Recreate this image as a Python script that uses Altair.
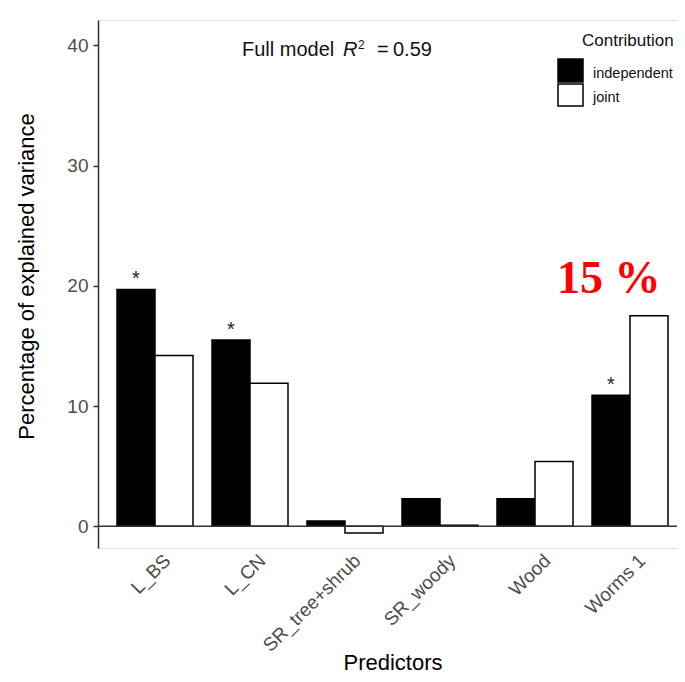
import altair as alt
import pandas as pd

predictors = ["L_BS", "L_CN", "SR_tree+shrub", "SR_woody", "Wood", "Worms 1"]
independent = [19.7, 15.5, 0.45, 2.3, 2.3, 10.9]
joint = [14.2, 11.9, -0.55, 0.1, 5.4, 17.5]
significant = ["L_BS", "L_CN", "Worms 1"]
contributions = ["independent", "joint"]

rows = []
for p, i, j in zip(predictors, independent, joint):
    rows.append({"Predictor": p, "Contribution": "independent", "value": i})
    rows.append({"Predictor": p, "Contribution": "joint", "value": j})
df = pd.DataFrame(rows)
stars = df[(df.Contribution == "independent") & (df.Predictor.isin(significant))]

FONT = "Liberation Sans"

xenc = alt.X("Predictor:N", sort=predictors,
             scale=alt.Scale(range=[0, 589], paddingInner=0.2, paddingOuter=0.2),
             axis=alt.Axis(title="Predictors", labelAngle=-45, labelAlign="right",
                           labelBaseline="top", labelFontSize=19, labelColor="#4d4d4d",
                           labelPadding=3, labelOffset=6, domain=False, ticks=False,
                           titleFontSize=22, titleFontWeight="normal", titleColor="black",
                           titleX=294.5, titleY=121, titleBaseline="alphabetic"))
xoff = alt.XOffset("Contribution:N", sort=contributions, scale=alt.Scale(paddingInner=0))
yscale = alt.Scale(domain=[-1.8, 42.1], nice=False, zero=False)

bars = alt.Chart(df).mark_bar(stroke="black", strokeWidth=1.5).encode(
    x=xenc,
    xOffset=xoff,
    y=alt.Y("value:Q", scale=yscale,
            axis=alt.Axis(title="Percentage of explained variance", values=[0, 10, 20, 30, 40],
                          grid=False, labelFontSize=19, labelColor="#4d4d4d",
                          domainColor="#333333", domainWidth=1.5, tickColor="#333333",
                          tickWidth=1.5, tickSize=5, labelPadding=5,
                          titleFontSize=22, titleFontWeight="normal", titleColor="black",
                          titlePadding=28, titleY=256)),
    y2=alt.datum(0),
    fill=alt.Fill("Contribution:N", scale=alt.Scale(domain=contributions, range=["black", "white"]),
                  legend=None),
)

zero = alt.Chart(pd.DataFrame({"z": [0]})).mark_rule(color="#333333", strokeWidth=1.5).encode(
    y=alt.Y("z:Q", scale=yscale))

star_text = alt.Chart(stars).mark_text(text="*", fontSize=20, baseline="middle", dy=-10,
                                       color="#222222").encode(
    x=alt.X("Predictor:N", sort=predictors), xOffset=alt.XOffset("Contribution:N", sort=contributions),
    y=alt.Y("value:Q", scale=yscale))

def txt(s, x, y, **kw):
    return alt.Chart(pd.DataFrame({"t": [s]})).mark_text(align="left", baseline="alphabetic", **kw).encode(
        text="t:N", x=alt.value(x), y=alt.value(y))

annot = [
    txt("Full model", 144, 36, fontSize=20, font=FONT, color="#111111"),
    txt("R", 245, 36, fontSize=20, font=FONT, fontStyle="italic", color="#111111"),
    txt("2", 260, 29, fontSize=12, font=FONT, color="#111111"),
    txt("=", 279, 36, fontSize=20, font=FONT, color="#111111"),
    txt("0.59", 295, 36, fontSize=20, font=FONT, color="#111111"),
    txt("15 %", 459, 273, fontSize=46, font="Liberation Serif", fontWeight="bold", color="#ff0000"),
    txt("Contribution", 484, 26, fontSize=17, font=FONT, color="#111111"),
    txt("independent", 495, 58, fontSize=14.5, font=FONT, color="#111111"),
    txt("joint", 495, 82, fontSize=14.5, font=FONT, color="#111111"),
]

def box(fill, y0, y1):
    return alt.Chart(pd.DataFrame({"f": [fill]})).mark_rect(fill=fill, stroke="black", strokeWidth=1.5).encode(
        x=alt.value(460), x2=alt.value(485), y=alt.value(y0), y2=alt.value(y1))

legend = [box("black", 39, 62), box("white", 64, 86)]

chart = alt.layer(bars, zero, star_text, *annot, *legend).properties(
    width=579, height=528,
    autosize=alt.AutoSizeParams(type="none"),
    padding={"left": 90, "top": 12, "right": 0, "bottom": 126},
).configure_view(stroke=None).configure(font=FONT)

chart.save("out.html", embed_options={"renderer": "svg", "actions": False})
